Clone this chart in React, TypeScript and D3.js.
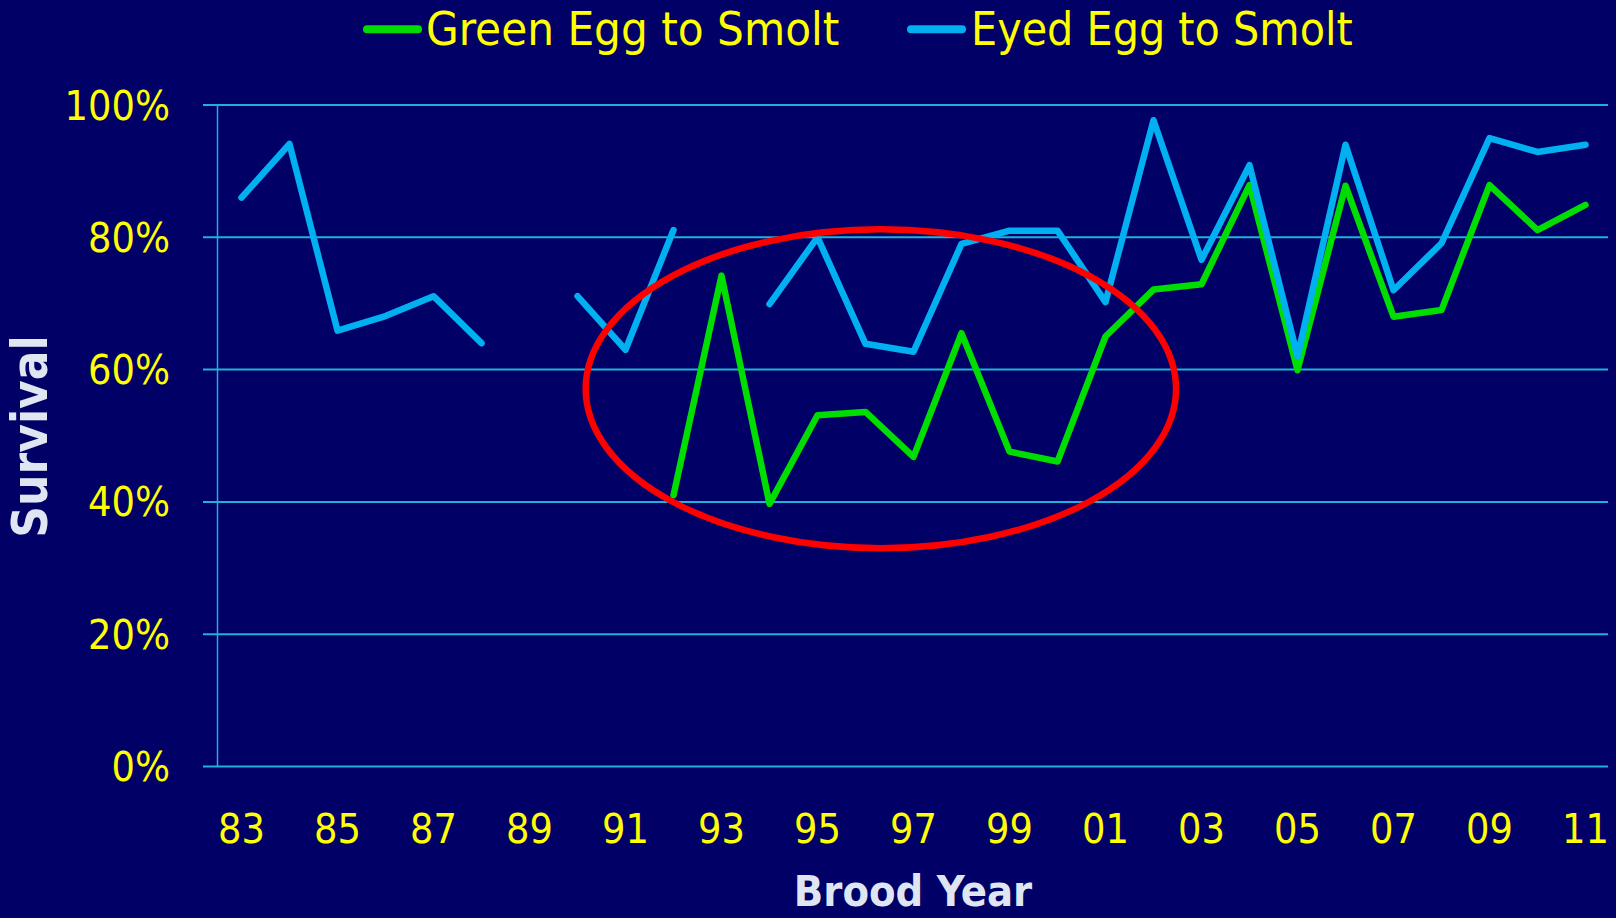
import React from "react";
import * as d3 from "d3";

const years = d3.range(1983, 2012);
const tickYears = [1983, 1985, 1987, 1989, 1991, 1993, 1995, 1997, 1999, 2001, 2003, 2005, 2007, 2009, 2011];
const yTicks = [0, 0.2, 0.4, 0.6, 0.8, 1.0];

// Green Egg to Smolt (1983..2011)
const greenValues: (number | null)[] = [
  null, null, null, null, null, null, null, null, null,
  0.41, 0.742, 0.397, 0.531, 0.536, 0.468, 0.655, 0.476, 0.461, 0.65,
  0.721, 0.729, 0.879, 0.599, 0.878, 0.68, 0.69, 0.879, 0.811, 0.849,
];
// Eyed Egg to Smolt (1983..2011)
const blueValues: (number | null)[] = [
  0.86, 0.941, 0.659, 0.681, 0.711, 0.64, null, 0.711, 0.63,
  0.811, null, 0.699, 0.80, 0.639, 0.627, 0.79, 0.81, 0.81, 0.702,
  0.977, 0.766, 0.909, 0.62, 0.94, 0.72, 0.791, 0.95, 0.929, 0.94,
];

// red annotation ellipse (centre year, centre value, half-width in years, half-height in value)
const ellipseCenterYear = 1996.32;
const ellipseCenterValue = 0.571;
const ellipseHalfYears = 6.15;
const ellipseHalfValue = 0.241;

const W = 1616;
const H = 918;
const BG = "#000066";
const GRID = "#1fb2d6";
const YELLOW = "#ffff00";
const GREEN = "#00dd00";
const BLUE = "#00b0f0";
const TITLE = "#dfe6f2";
const FONT = "'DejaVu Sans Condensed', 'DejaVu Sans', sans-serif";

export default function App() {
  const x = d3.scaleBand<number>().domain(years).range([217.5, 1609.5]).padding(0);
  const bw = x.bandwidth();
  const cx = (yr: number) => (x(yr) as number) + bw / 2;
  const xCont = d3.scaleLinear().domain([1983, 2011]).range([cx(1983), cx(2011)]);
  const y = d3.scaleLinear().domain([0, 1]).range([766.5, 105]);

  const mk = (vals: (number | null)[]) =>
    d3
      .line<number | null>()
      .defined((d) => d !== null)
      .x((_, i) => cx(years[i]))
      .y((d) => y(d as number))(vals) as string;

  const ecx = xCont(ellipseCenterYear);
  const ecy = y(ellipseCenterValue);
  const erx = xCont(ellipseCenterYear + ellipseHalfYears) - ecx;
  const ery = y(ellipseCenterValue - ellipseHalfValue) - ecy;

  return (
    <svg
      width={W}
      height={H}
      style={{ position: "absolute", left: 0, top: 0, display: "block", background: BG }}
    >
      <rect x={0} y={0} width={W} height={H} fill={BG} />
      {/* gridlines */}
      {yTicks.map((t) => (
        <line key={t} x1={203} x2={1608} y1={y(t)} y2={y(t)} stroke={GRID} strokeWidth={2} />
      ))}
      <line x1={217.5} x2={217.5} y1={y(1)} y2={y(0)} stroke={GRID} strokeWidth={1.5} />
      {/* y tick labels */}
      {yTicks.map((t) => (
        <text
          key={t}
          x={170}
          y={y(t) + 14.5}
          textAnchor="end"
          fill={YELLOW}
          fontFamily={FONT}
          fontSize={41}
        >
          {Math.round(t * 100) + "%"}
        </text>
      ))}
      {/* x tick labels */}
      {tickYears.map((yr) => (
        <text
          key={yr}
          x={cx(yr)}
          y={843}
          textAnchor="middle"
          fill={YELLOW}
          fontFamily={FONT}
          fontSize={41}
        >
          {String(yr % 100).padStart(2, "0")}
        </text>
      ))}
      {/* series */}
      <path d={mk(greenValues)} fill="none" stroke={GREEN} strokeWidth={6.5} strokeLinejoin="round" strokeLinecap="round" />
      <path d={mk(blueValues)} fill="none" stroke={BLUE} strokeWidth={6.5} strokeLinejoin="round" strokeLinecap="round" />
      {/* annotation */}
      <ellipse cx={ecx} cy={ecy} rx={erx} ry={ery} fill="none" stroke="#ff0000" strokeWidth={6.5} />
      {/* axis titles */}
      <text
        transform={`translate(47,436.5) rotate(-90)`}
        textAnchor="middle"
        fill={TITLE}
        fontFamily={FONT}
        fontWeight="bold"
        fontSize={49}
      >
        Survival
      </text>
      <text x={913} y={906} textAnchor="middle" fill={TITLE} fontFamily={FONT} fontWeight="bold" fontSize={43}>
        Brood Year
      </text>
      {/* legend */}
      <line x1={367} x2={418} y1={29.3} y2={29.3} stroke={GREEN} strokeWidth={8} strokeLinecap="round" />
      <text x={426} y={45} fill={YELLOW} fontFamily={FONT} fontSize={47}>
        Green Egg to Smolt
      </text>
      <line x1={911} x2={962} y1={29.3} y2={29.3} stroke={BLUE} strokeWidth={8} strokeLinecap="round" />
      <text x={971} y={45} fill={YELLOW} fontFamily={FONT} fontSize={46}>
        Eyed Egg to Smolt
      </text>
    </svg>
  );
}
